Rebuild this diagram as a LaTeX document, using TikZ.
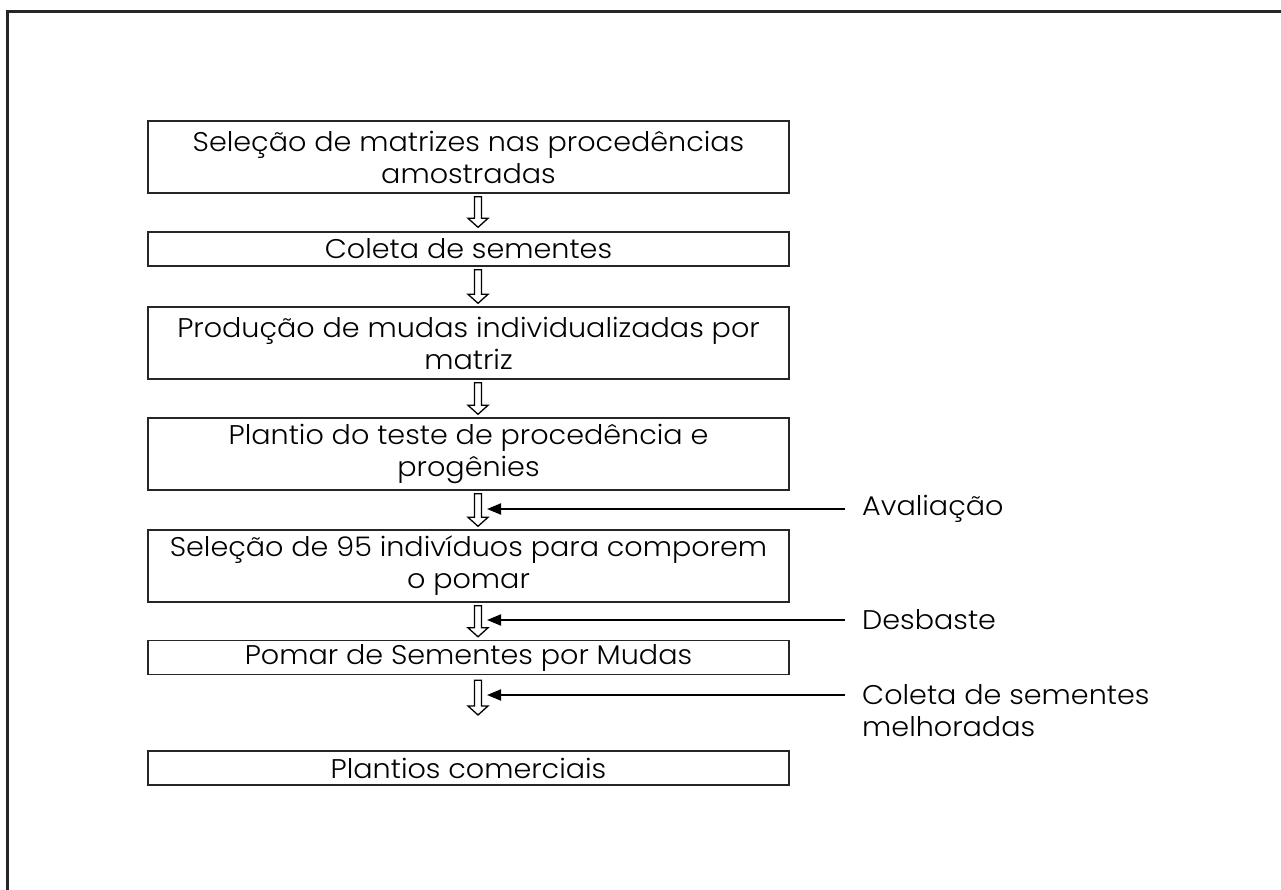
\documentclass[tikz,border=0pt]{standalone}
\usepackage{fontspec}
\setmainfont{Poppins Light}[FakeStretch=1.06]
\usetikzlibrary{calc,arrows.meta}
\tikzset{
  stage/.style={draw=black!85, line width=1.4pt, minimum width=641pt, inner sep=0pt, align=center,
    font=\fontsize{27}{32}\selectfont},
  hollow/.style={draw=black, line width=1.3pt, fill=white, line join=miter},
  feed/.style={draw=black, line width=2pt, -{Triangle[length=14pt,width=11pt]}},
  sidelabel/.style={anchor=west, inner sep=0pt, align=left, font=\fontsize{27}{32}\selectfont},
}
\newcommand{\hollowarrow}[2]{%
  \draw[hollow] let \p1=#1, \p2=#2 in
    (\x1-3.5pt,\y1) -- (\x1+3.5pt,\y1) -- (\x1+3.5pt,\y2+9pt) -- (\x1+10pt,\y2+9pt)
    -- (\x1,\y2) -- (\x1-10pt,\y2+9pt) -- (\x1-3.5pt,\y2+9pt) -- cycle;}
\begin{document}
\begin{tikzpicture}[x=1pt,y=-1pt]
\useasboundingbox (0,0) rectangle (1281,890);
\draw[line width=3pt, black!85] (7,900) -- (7,12) -- (1290,12);

\node[stage, minimum height=72pt] (b1) at (468.5,157) {Seleção de matrizes nas procedências\\amostradas};
\node[stage, minimum height=34pt] (b2) at (468.5,249) {Coleta de sementes};
\node[stage, minimum height=72pt] (b3) at (468.5,343) {Produção de mudas individualizadas por\\matriz};
\node[stage, minimum height=72pt] (b4) at (468.5,454) {Plantio do teste de procedência e\\progênies};
\node[stage, minimum height=72pt] (b5) at (468.5,566) {Seleção de 95 indivíduos para comporem\\o pomar};
\node[stage, minimum height=34pt] (b6) at (468.5,657.5) {Pomar de Sementes por Mudas};
\node[stage, minimum height=34pt] (b7) at (468.5,768) {Plantios comerciais};

\coordinate (end6) at (478,715);

\hollowarrow{($(b1.south)+(9.5,3)$)}{($(b2.north)+(9.5,-4)$)}
\hollowarrow{($(b2.south)+(9.5,3)$)}{($(b3.north)+(9.5,-3)$)}
\hollowarrow{($(b3.south)+(9.5,3)$)}{($(b4.north)+(9.5,-3)$)}
\hollowarrow{($(b4.south)+(9.5,3)$)}{($(b5.north)+(9.5,-3)$)}
\hollowarrow{($(b5.south)+(9.5,3)$)}{($(b6.north)+(9.5,-3)$)}
\hollowarrow{($(b6.south)+(9.5,5)$)}{(end6)}

\node[sidelabel] (l1) at (862,509) {Avaliação};
\node[sidelabel] (l2) at (862,620) {Desbaste};
\node[sidelabel] (l3) at (862,711) {Coleta de sementes\\melhoradas};

\coordinate (s1) at (845,509); \coordinate (t1) at (487,509);
\coordinate (s2) at (845,620); \coordinate (t2) at (487,620);
\coordinate (s3) at (845,695); \coordinate (t3) at (487,695);
\draw[feed] (s1) -- (t1);
\draw[feed] (s2) -- (t2);
\draw[feed] (s3) -- (t3);
\end{tikzpicture}
\end{document}
